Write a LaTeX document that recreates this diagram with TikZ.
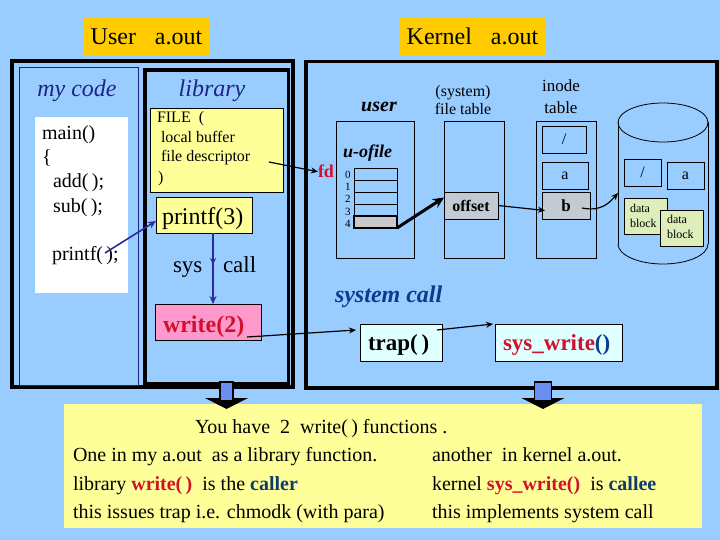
\documentclass[tikz,border=0pt]{standalone}
\usepackage{fontspec}
\setmainfont{Liberation Serif}
\usetikzlibrary{arrows.meta,calc,decorations.markings}
\definecolor{bg}{HTML}{99CCFF}
\definecolor{orng}{HTML}{FFCC00}
\definecolor{yel}{HTML}{FFFF99}
\definecolor{pinkf}{HTML}{FF99CC}
\definecolor{navyt}{HTML}{1C2488}
\definecolor{navya}{HTML}{2B2BA0}
\definecolor{redt}{HTML}{D0102C}
\definecolor{sysblue}{HTML}{0E3A8E}
\definecolor{cyanf}{HTML}{E0FFFF}
\definecolor{grayf}{HTML}{C8C8C8}
\definecolor{grayb}{HTML}{C2CAD4}
\definecolor{greenf}{HTML}{DDEEBB}
\definecolor{arrowblue}{HTML}{6A8FF0}
\definecolor{calt}{HTML}{0F3A6E}
\newcommand{\fsz}[1]{\fontsize{#1}{#1}\selectfont}
\begin{document}
\begin{tikzpicture}[x=1pt,y=-1pt,
  boxn/.style={inner sep=0pt, outer sep=0pt, anchor=north west},
  txt/.style={inner sep=0pt, outer sep=0pt, anchor=base west},
  ctxt/.style={inner sep=0pt, outer sep=0pt, anchor=base},
  thinbox/.style={boxn, draw=black, line width=0.8pt},
  navyarrow/.style={draw=navya, line width=1.6pt, -{Stealth[length=8pt,width=7pt]}},
  karrow/.style={draw=black, line width=1.2pt, -{Stealth[length=7pt,width=6pt]}},
]
\fill[bg] (0,0) rectangle (720,540);
\useasboundingbox (0,0) rectangle (720,540);

% ---------- titles
\node[boxn, fill=orng, minimum width=125pt, minimum height=37pt, font=\fsz{24}] (ulabel) at (84,18) {User\hspace{19pt}a.out};
\node[boxn, fill=orng, minimum width=145pt, minimum height=37pt, font=\fsz{24}] (klabel) at (400,18) {Kernel\hspace{19pt}a.out};

% ---------- user side frames
\node[boxn, draw=black, line width=3.5pt, minimum width=281pt, minimum height=326pt] (userbox) at (12,61) {};
\node[boxn, draw=navyt, line width=1pt, minimum width=119pt, minimum height=317pt] (mycode) at (19,68) {};
\node[boxn, draw=black, line width=3.5pt, minimum width=143.5pt, minimum height=313.5pt] (libbox) at (145,70) {};
\node[boxn, draw=black, line width=3.5pt, minimum width=411pt, minimum height=326.5pt] (kernbox) at (306,61.5) {};

\node[ctxt, font=\fsz{24}\itshape, text=navyt] (mycodet) at (77,97) {my code};
\node[ctxt, font=\fsz{24}\itshape, text=navyt] (libt) at (212,97) {library};

% code
\node[boxn, fill=white, minimum width=93pt, minimum height=176pt] (code) at (35,117) {};
\node[txt, font=\fsz{20}] (cmain) at (42,140) {main()};
\node[txt, font=\fsz{20}] (cbrace) at (42,164) {\{};
\node[txt, font=\fsz{20}] (cadd) at (53,188) {add(\,);};
\node[txt, font=\fsz{20}] (csub) at (53,212) {sub(\,);};
\node[txt, font=\fsz{20}] (cprintf) at (52,260) {printf(\,);};
\coordinate (pcall) at (105,253);

% library
\node[thinbox, fill=yel, minimum width=133pt, minimum height=84pt] (filebox) at (150,108) {};
\node[txt, font=\fsz{16}] (ft1) at (157,123) {FILE\hspace{8pt}(};
\node[txt, font=\fsz{16}] (ft2) at (161,143) {local buffer};
\node[txt, font=\fsz{16}] (ft3) at (161,162) {file descriptor};
\node[txt, font=\fsz{16}] (ft4) at (158,183) {)};
\coordinate (fdstart) at (269,162);

\node[thinbox, fill=yel, minimum width=96pt, minimum height=36pt] (p3) at (156,197) {};
\node[txt, font=\fsz{24}] (p3t) at (162,225) {printf(3)};

\node[txt, font=\fsz{23}] (syst) at (173,272) {sys};
\node[txt, font=\fsz{23}] (callt) at (223,272) {call};

\node[thinbox, fill=pinkf, minimum width=106pt, minimum height=36pt] (w2) at (155,304) {};
\node[txt, font=\fsz{24}\bfseries, text=redt] (w2t) at (163,332) {write(2)};
\coordinate (w2out) at (247,337);

\draw[navyarrow] (pcall) -- ($(p3.west)+(0,6)$);
\draw[navyarrow, postaction={decorate},
  decoration={markings, mark=at position 0.45 with {\arrow{Stealth[length=7pt,width=6pt]}}}]
  ($(p3.south)+(9,0)$) -- ($(w2.north)+(5,0)$);

% ---------- kernel side
\node[ctxt, font=\fsz{20}\bfseries\itshape] (usert) at (379,112) {user};
\node[boxn, draw=black, line width=0.8pt, minimum width=78pt, minimum height=137pt] (ubox) at (336,121) {};
\node[txt, font=\fsz{18}\bfseries\itshape] (uofile) at (343,158) {u-ofile};
\node[txt, font=\fsz{18}\bfseries, text=redt] (fd) at (318,178) {fd};

\foreach \i in {0,...,3} {
  \node[thinbox, minimum width=43pt, minimum height=12pt] (c\i) at (354,168+12*\i) {};
}
\node[boxn, draw=black, line width=2.5pt, fill=grayf, minimum width=43pt, minimum height=12pt] (c4) at (354,216) {};
\foreach \i in {0,...,4} {
  \node[txt, font=\fsz{11}] (n\i) at (345,179+12*\i) {\i};
}

\node[ctxt, font=\fsz{16}] (syslbl) at (463,97) {(system)};
\node[ctxt, font=\fsz{16}] (ftlbl) at (463,115) {file table};
\node[boxn, draw=black, line width=0.8pt, minimum width=60pt, minimum height=137pt] (ftab) at (444,121) {};
\node[thinbox, fill=grayb, minimum width=54pt, minimum height=27pt, font=\fsz{16}\bfseries] (offset) at (444,192) {offset};

\node[ctxt, font=\fsz{17}] (inlbl) at (561,92) {inode};
\node[ctxt, font=\fsz{17}] (itlbl) at (561,114) {table};
\node[boxn, draw=black, line width=0.8pt, minimum width=60pt, minimum height=137pt] (itab) at (536,121) {};
\node[thinbox, minimum width=44pt, minimum height=27pt, font=\fsz{16}] (islash) at (542,126) {/};
\node[thinbox, minimum width=46pt, minimum height=27pt, font=\fsz{16}] (ia) at (542,162) {a};
\node[thinbox, fill=grayb, minimum width=48pt, minimum height=27pt, font=\fsz{17}\bfseries] (ib) at (542,192) {b};
\coordinate (bout) at (582,208);

% cylinder
\draw[line width=0.8pt] (618,122.5) -- (618,244);
\draw[line width=0.8pt] (708,122.5) -- (708,244);
\draw[line width=0.8pt] (663,122.5) ellipse [x radius=45, y radius=19.5];
\begin{scope}
  \clip (600,244) rectangle (720,275);
  \draw[line width=0.8pt] (663,244) ellipse [x radius=45, y radius=20];
\end{scope}
\node[thinbox, minimum width=37pt, minimum height=27pt, font=\fsz{16}] (dslash) at (624,159) {/};
\node[thinbox, minimum width=37pt, minimum height=27pt, font=\fsz{16}] (da) at (667,162) {a};
\node[thinbox, fill=greenf, minimum width=43pt, minimum height=36pt] (db1) at (624,198) {};
\node[txt, font=\fsz{12}] (db1a) at (630,212) {data};
\node[txt, font=\fsz{12}] (db1b) at (630,227) {block};
\node[thinbox, fill=greenf, minimum width=43pt, minimum height=36pt] (db2) at (660,210) {};
\node[txt, font=\fsz{12}] (db2a) at (667,224) {data};
\node[txt, font=\fsz{12}] (db2b) at (667,239) {block};
\coordinate (dbtip) at (618,193);

% system call
\node[txt, font=\fsz{24}\bfseries\itshape, text=sysblue] (sct) at (335,302) {system call};
\node[thinbox, fill=cyanf, minimum width=82pt, minimum height=37pt] (trap) at (360,324) {};
\node[txt, font=\fsz{23}\bfseries] (trapt) at (368,350) {trap(\,)};
\node[thinbox, fill=cyanf, minimum width=127pt, minimum height=37pt] (sysw) at (495,324) {};
\node[txt, font=\fsz{23}\bfseries] (syswt) at (503,350) {\textcolor{redt}{sys\_write}\textcolor{sysblue}{()}};

% kernel connectors
\draw[karrow] (fdstart) -- (fd.west);
\draw[draw=black, line width=3pt, -{Stealth[length=11pt,width=10pt]}] (c4.south east) -- ($(offset.west)+(0,-8)$);
\draw[karrow] (offset.east) -- ($(ib.west)+(3,5)$);
\draw[karrow] (bout) .. controls (602,212) and (610,202) .. (dbtip);
\draw[karrow] (w2out) -- ($(trap.north west)+(-4,6)$);
\draw[karrow] ($(trap.north east)+(-5,6)$) -- ($(sysw.north west)+(-2,0)$);

% ---------- bottom note
\node[boxn, fill=yel, minimum width=638pt, minimum height=124pt] (note) at (64,404) {};
\node[txt, font=\fsz{20}] (l1) at (195,433) {You have\hspace{10pt}2\hspace{10pt}write(\,) functions .};
\node[txt, font=\fsz{20}] (l2a) at (73,461) {One in my a.out\hspace{10pt}as a library function.};
\node[txt, font=\fsz{20}] (l2b) at (432,461) {another\hspace{10pt}in kernel a.out.};
\node[txt, font=\fsz{20}] (l3a) at (73,490) {library \textbf{\textcolor{redt}{write(\,)}}\hspace{10pt}is the \textbf{\textcolor{calt}{caller}}};
\node[txt, font=\fsz{20}] (l3b) at (432,490) {kernel \textbf{\textcolor{redt}{sys\_write()}}\hspace{10pt}is \textbf{\textcolor{calt}{callee}}};
\node[txt, font=\fsz{20}] (l4a) at (73,518) {this issues trap i.e. chmodk (with para)};
\node[txt, font=\fsz{20}] (l4b) at (432,518) {this implements system call};

% block arrows
\foreach \cx/\hw/\nm in {226.5/6.5/ba1, 543/8.5/ba2} {
  \fill[black] (\cx-21.5,398) -- (\cx+21.5,398) -- (\cx,409) -- cycle;
  \draw[fill=arrowblue, line width=1.5pt] (\cx-\hw,382) rectangle (\cx+\hw,401);
}
\end{tikzpicture}
\end{document}
